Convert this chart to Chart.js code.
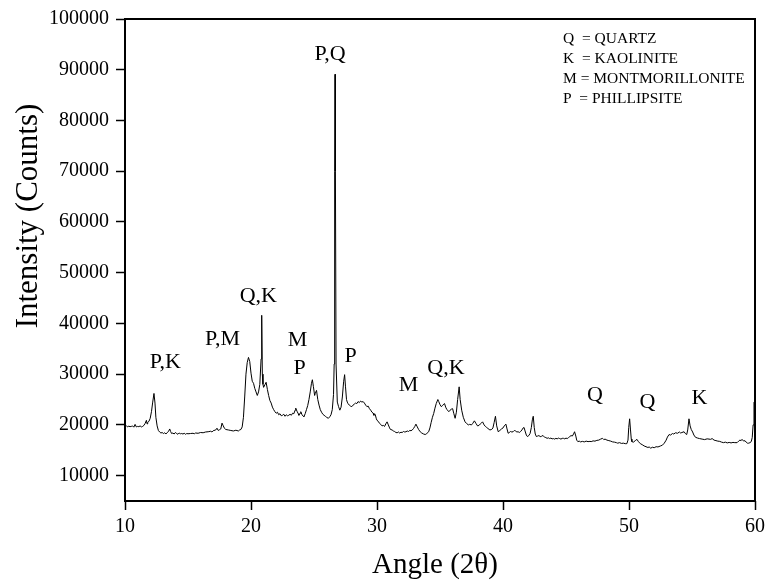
<!DOCTYPE html>
<html>
<head>
<meta charset="utf-8">
<script src="https://cdn.jsdelivr.net/npm/chart.js@4.4.1/dist/chart.umd.min.js"></script>
<style>
  html, body { margin: 0; padding: 0; background: #fff; }
  #wrap { width: 770px; height: 584px; }
</style>
</head>
<body>
<div id="wrap"><canvas id="xrdChart"></canvas></div>
<script>
// diffractogram: angle (2 theta) and intensity (counts)
const angles = [
  10.0, 10.1, 10.2, 10.3, 10.4, 10.5, 10.6, 10.7, 10.8, 10.9, 11.0, 11.1, 11.2, 11.3, 11.4, 11.5, 11.6, 11.7, 11.75, 11.8,
  11.9, 12.0, 12.1, 12.2, 12.3, 12.38, 12.45, 12.55, 12.65, 12.75, 12.85, 12.95, 13.05, 13.15, 13.25, 13.35, 13.45, 13.55, 13.62, 13.7,
  13.8, 13.9, 14.0, 14.1, 14.2, 14.3, 14.4, 14.5, 14.6, 14.7, 14.8, 14.9, 15.0, 15.2, 15.4, 15.5, 15.6, 15.8, 16.0, 16.2,
  16.4, 16.6, 16.8, 16.9, 17.0, 17.2, 17.3, 17.4, 17.5, 17.6, 17.7, 17.8, 17.9, 18.0, 18.2, 18.4, 18.6, 18.8, 19.0, 19.1,
  19.2, 19.3, 19.4, 19.5, 19.6, 19.7, 19.8, 19.9, 20.0, 20.1, 20.2, 20.3, 20.4, 20.5, 20.6, 20.7, 20.8, 20.85, 20.9, 20.95,
  21.0, 21.1, 21.2, 21.3, 21.4, 21.5, 21.6, 21.7, 21.8, 21.9, 22.0, 22.1, 22.2, 22.3, 22.4, 22.5, 22.6, 22.7, 22.8, 22.9,
  23.0, 23.1, 23.2, 23.3, 23.4, 23.5, 23.55, 23.65, 23.75, 23.8, 23.9, 23.95, 24.05, 24.15, 24.2, 24.3, 24.4, 24.5, 24.6, 24.7,
  24.8, 24.87, 24.95, 25.05, 25.1, 25.2, 25.3, 25.4, 25.5, 25.6, 25.7, 25.8, 25.9, 26.0, 26.14, 26.25, 26.35, 26.45, 26.55, 26.6,
  26.64, 26.67, 26.7, 26.75, 26.85, 26.95, 27.05, 27.15, 27.25, 27.35, 27.43, 27.5, 27.58, 27.64, 27.7, 27.8, 27.9, 28.0, 28.1, 28.2,
  28.3, 28.4, 28.5, 28.6, 28.7, 28.8, 28.9, 29.0, 29.1, 29.2, 29.3, 29.4, 29.5, 29.6, 29.7, 29.75, 29.85, 29.95, 30.0, 30.1,
  30.2, 30.3, 30.4, 30.5, 30.6, 30.7, 30.8, 30.9, 31.0, 31.07, 31.2, 31.3, 31.4, 31.5, 31.6, 31.7, 31.8, 31.9, 32.0, 32.1,
  32.2, 32.3, 32.4, 32.5, 32.6, 32.7, 32.8, 32.9, 33.0, 33.09, 33.2, 33.3, 33.43, 33.55, 33.7, 33.83, 33.95, 34.1, 34.2, 34.3,
  34.4, 34.5, 34.6, 34.7, 34.83, 34.9, 35.0, 35.1, 35.2, 35.3, 35.36, 35.45, 35.55, 35.6, 35.7, 35.8, 35.9, 36.0, 36.1, 36.2,
  36.3, 36.4, 36.52, 36.6, 36.72, 36.85, 36.99, 37.1, 37.25, 37.35, 37.5, 37.6, 37.73, 37.85, 37.98, 38.1, 38.2, 38.3, 38.38, 38.5,
  38.6, 38.7, 38.8, 38.96, 39.1, 39.2, 39.3, 39.4, 39.5, 39.62, 39.75, 39.88, 40.0, 40.1, 40.23, 40.32, 40.41, 40.5, 40.6, 40.7,
  40.8, 40.9, 41.0, 41.1, 41.2, 41.3, 41.4, 41.5, 41.6, 41.67, 41.75, 41.85, 41.94, 42.05, 42.15, 42.25, 42.33, 42.4, 42.48, 42.56,
  42.65, 42.75, 42.85, 42.95, 43.04, 43.1, 43.2, 43.3, 43.4, 43.5, 43.6, 43.7, 43.8, 43.9, 44.0, 44.1, 44.2, 44.3, 44.4, 44.5,
  44.6, 44.7, 44.8, 44.9, 45.0, 45.1, 45.2, 45.3, 45.4, 45.5, 45.6, 45.68, 45.78, 45.85, 45.94, 46.05, 46.15, 46.3, 46.45, 46.6,
  46.75, 46.9, 47.0, 47.15, 47.3, 47.45, 47.6, 47.75, 47.9, 48.0, 48.1, 48.25, 48.4, 48.55, 48.7, 48.85, 49.0, 49.1, 49.25, 49.4,
  49.55, 49.7, 49.83, 49.92, 49.98, 50.05, 50.12, 50.18, 50.23, 50.35, 50.5, 50.63, 50.75, 50.9, 51.05, 51.2, 51.35, 51.5, 51.6, 51.73,
  51.85, 52.0, 52.15, 52.3, 52.5, 52.65, 52.8, 52.95, 53.05, 53.18, 53.3, 53.45, 53.55, 53.7, 53.85, 54.0, 54.1, 54.2, 54.37, 54.47,
  54.58, 54.66, 54.76, 54.85, 54.94, 55.05, 55.15, 55.28, 55.45, 55.6, 55.8, 56.0, 56.2, 56.35, 56.47, 56.6, 56.75, 56.9, 57.05, 57.2,
  57.35, 57.5, 57.65, 57.8, 57.95, 58.1, 58.25, 58.4, 58.58, 58.7, 58.8, 58.9, 58.97, 59.1, 59.2, 59.3, 59.4, 59.5, 59.6, 59.7,
  59.78, 59.85, 59.92, 60.0
];
const counts = [
  19700, 19850, 19600, 19750, 19650, 19700, 19800, 19550, 20100, 19600, 19700, 19650, 19800, 19600, 19700, 19900, 20300, 20900, 20200, 20500,
  20700, 21300, 22600, 24500, 26200, 24300, 21500, 19800, 18900, 18600, 18400, 18500, 18300, 18450, 18200, 18500, 18700, 19200, 18700, 18300,
  18400, 18200, 18500, 18300, 18150, 18400, 18250, 18300, 18200, 18350, 18150, 18300, 18250, 18300, 18350, 18250, 18400, 18350, 18500, 18450,
  18600, 18650, 18750, 18600, 18850, 19000, 19350, 18900, 19050, 19200, 20350, 19800, 19300, 19100, 19000, 18900, 18800, 18950, 18800, 19000,
  19100, 19600, 21500, 25500, 30000, 32300, 33300, 32500, 30200, 28600, 28200, 27200, 26500, 25800, 26500, 28000, 33000, 41600, 30000, 28000,
  27400, 27900, 28400, 27000, 25800, 24800, 24300, 23500, 23000, 22600, 22300, 22500, 22000, 22200, 21800, 21900, 22100, 21700, 22000, 21800,
  21900, 22100, 21900, 22300, 22200, 22900, 23300, 22700, 22200, 21900, 22300, 22600, 22000, 21700, 21600, 22200, 23000, 23800, 25000, 26500,
  28200, 28900, 27600, 25800, 26200, 26800, 25000, 23900, 23000, 22500, 22100, 21900, 21700, 21500, 21300, 21600, 22000, 23000, 26000, 32000,
  70000, 89100, 70000, 32000, 24500, 23600, 22900, 23500, 25500, 28500, 29900, 27500, 25000, 24500, 24200, 23900, 23700, 23600, 23900, 24100,
  24300, 24200, 24600, 24400, 24700, 24500, 24600, 24300, 23900, 23600, 23700, 23200, 22900, 22500, 22300, 21900, 22100, 21200, 20900, 20700,
  20300, 20100, 19800, 19900, 19700, 20200, 20600, 20000, 19400, 19100, 19000, 18800, 18700, 18500, 18450, 18600, 18400, 18550, 18500, 18700,
  18600, 18650, 18800, 18700, 18900, 18850, 19000, 19300, 19700, 20150, 19600, 19100, 18650, 18400, 18200, 18100, 18300, 18650, 19400, 20500,
  21500, 22250, 23300, 24200, 25000, 24600, 24000, 23600, 23800, 24100, 24200, 23500, 23000, 22900, 22600, 22900, 23100, 23200, 22200, 21300,
  22500, 25000, 27500, 25000, 22900, 21500, 20600, 20300, 20000, 20100, 20000, 20300, 20800, 20300, 19800, 19900, 20200, 20400, 20600, 20000,
  19700, 19500, 19300, 19000, 19100, 19400, 20500, 21700, 19800, 18650, 18900, 19200, 19400, 19800, 20150, 19200, 18350, 18500, 18700, 18600,
  18650, 18900, 18800, 18600, 18650, 18500, 18700, 19000, 19400, 19500, 18800, 18000, 17700, 17900, 18300, 19500, 21000, 21700, 19500, 18200,
  17700, 17800, 17900, 17700, 17700, 17900, 17800, 17600, 17500, 17350, 17450, 17300, 17400, 17250, 17300, 17200, 17350, 17250, 17400, 17300,
  17200, 17350, 17350, 17250, 17400, 17300, 17500, 17700, 17900, 17800, 18200, 18650, 17800, 17000, 16700, 16800, 16650, 16750, 16650, 16800,
  16700, 16750, 16700, 16850, 16800, 16950, 17000, 17200, 17350, 17100, 17200, 17000, 16900, 16800, 16650, 16600, 16500, 16400, 16500, 16350,
  16400, 16300, 16300, 17000, 19500, 21200, 19000, 17200, 16700, 16600, 16900, 17150, 16700, 16300, 16100, 15850, 15700, 15550, 15650, 15400,
  15600, 15500, 15700, 15650, 15850, 16000, 16400, 17000, 17600, 18100, 18000, 18300, 18200, 18450, 18350, 18600, 18400, 18500, 18650, 18300,
  18100, 19000, 21200, 19800, 19100, 18600, 18000, 17550, 17400, 17300, 17200, 17100, 17250, 17200, 17150, 17300, 17000, 16900, 16800, 16750,
  16600, 16500, 16600, 16450, 16550, 16450, 16550, 16500, 16500, 16800, 17000, 16900, 17150, 16800, 16900, 16600, 16400, 16400, 16500, 16700,
  17500, 20000, 24500, 24500
];

const xTicks = [10, 20, 30, 40, 50, 60];
const yTicks = [10000, 20000, 30000, 40000, 50000, 60000, 70000, 80000, 90000, 100000];

// phase markers above the peaks
const peakLabels = ['P,K', 'P,M', 'Q,K', 'M', 'P', 'P,Q', 'P', 'M', 'Q,K', 'Q', 'Q', 'K'];
const peakLabelAngles = [13.2, 17.74, 20.58, 23.7, 23.86, 26.27, 27.9, 32.5, 35.47, 47.3, 51.47, 55.6];
const peakLabelCounts = [32300, 36800, 45400, 36700, 31200, 93000, 33600, 27800, 31100, 25800, 24500, 25200];

const phaseKey = ['Q  = QUARTZ', 'K  = KAOLINITE', 'M = MONTMORILLONITE', 'P  = PHILLIPSITE'];

const xTitle = 'Angle (2θ)';
const yTitle = 'Intensity (Counts)';

const serif = '"Liberation Serif", "Times New Roman", serif';

const frameAndLabels = {
  id: 'frameAndLabels',
  afterDraw(chart) {
    const { ctx, chartArea: a, scales: { x, y } } = chart;
    ctx.save();
    ctx.strokeStyle = '#000';
    ctx.lineWidth = 2;
    ctx.strokeRect(a.left, a.top, a.right - a.left, a.bottom - a.top);

    ctx.fillStyle = '#000';
    ctx.font = '22px ' + serif;
    ctx.textAlign = 'center';
    ctx.textBaseline = 'middle';
    peakLabels.forEach((t, i) => {
      ctx.fillText(t, x.getPixelForValue(peakLabelAngles[i]), y.getPixelForValue(peakLabelCounts[i]));
    });

    ctx.font = '15.5px ' + serif;
    ctx.textAlign = 'left';
    phaseKey.forEach((t, i) => {
      ctx.fillText(t, a.right - 192, a.top + 20 + i * 20);
    });

    // axis titles (the y title sits above the plot's middle in the figure)
    ctx.textAlign = 'center';
    ctx.font = '29px ' + serif;
    ctx.fillText(xTitle, 435, 565);
    ctx.translate(29, 216);
    ctx.rotate(-Math.PI / 2);
    ctx.font = '31px ' + serif;
    ctx.fillText(yTitle, 0, 0);
    ctx.restore();
  }
};

new Chart(document.getElementById('xrdChart'), {
  type: 'line',
  data: {
    datasets: [{
      data: angles.map((a, i) => ({ x: a, y: counts[i] })),
      borderColor: '#000',
      borderWidth: 1,
      pointRadius: 0,
      tension: 0,
      fill: false
    }]
  },
  options: {
    responsive: true,
    maintainAspectRatio: false,
    animation: false,
    layout: { padding: { top: 15, right: 13, bottom: 0, left: 0 } },
    plugins: { legend: { display: false }, tooltip: { enabled: false } },
    scales: {
      x: {
        type: 'linear',
        min: 10,
        max: 60,
        afterBuildTicks: s => { s.ticks = xTicks.map(v => ({ value: v })); },
        afterFit: s => { s.height = 83; },
        border: { display: false },
        grid: { drawOnChartArea: false, drawTicks: true, tickLength: 9, tickColor: '#000', tickWidth: 1.5 },
        ticks: { color: '#000', padding: 5, maxRotation: 0, callback: v => String(v), font: { family: serif, size: 20 } }
      },
      y: {
        min: 5000,
        max: 100000,
        afterBuildTicks: s => { s.ticks = yTicks.map(v => ({ value: v })); },
        afterFit: s => { s.width = 125; },
        border: { display: false },
        grid: { drawOnChartArea: false, drawTicks: true, tickLength: 9, tickColor: '#000', tickWidth: 1.5 },
        ticks: { color: '#000', padding: 7, callback: v => String(v), font: { family: serif, size: 20 } }
      }
    }
  },
  plugins: [frameAndLabels]
});
</script>
</body>
</html>
